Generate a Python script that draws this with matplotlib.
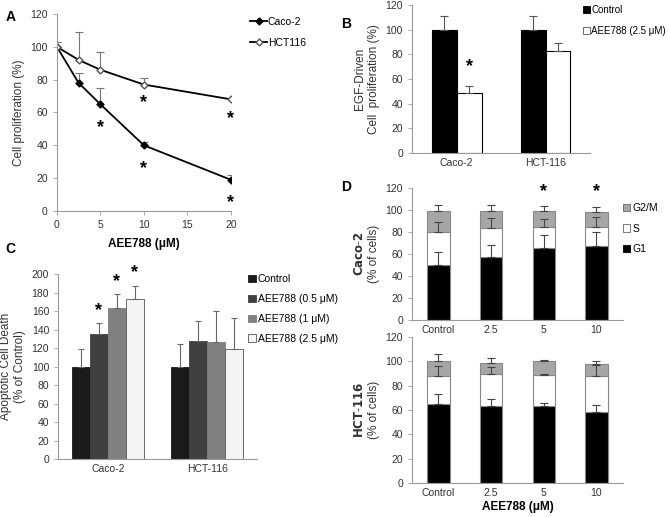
import numpy as np
import matplotlib
matplotlib.use('Agg')
from matplotlib import pyplot as plt
from matplotlib.lines import Line2D
from matplotlib.patches import Patch

plt.rcParams['font.family'] = ['Liberation Sans', 'DejaVu Sans']

# ---- panel A: dose response
doses = [0, 2.5, 5, 10, 20]
caco_prolif = [100, 78, 65, 40, 19]
caco_prolif_err = [3, 6, 10, 2, 3]
hct_prolif = [100, 92, 86, 77, 68]
hct_prolif_err = [3, 17, 11, 4, 1]
stars_a = [(5, 51), (10, 26), (20, 5), (10, 66), (20, 56)]

# ---- panel B: EGF-driven proliferation
lines_b = ['Caco-2', 'HCT-116']
ctrl_b = [100, 100]
ctrl_b_err = [11, 11]
aee_b = [49, 83]
aee_b_err = [5, 6]

# ---- panel C: apoptosis
groups_c = ['Control', 'AEE788 (0.5 μM)', 'AEE788 (1 μM)', 'AEE788 (2.5 μM)']
caco_apo = [100, 135, 163, 173]
caco_apo_err = [19, 12, 15, 14]
hct_apo = [100, 128, 126, 119]
hct_apo_err = [24, 21, 34, 34]

# ---- panel D: cell cycle
doses_d = ['Control', '2.5', '5', '10']
caco_g1 = [50, 57, 66, 67]
caco_g1_err = [12, 11, 11, 13]
caco_s_top = [80, 84, 85, 85]
caco_s_err = [9, 9, 7, 9]
caco_tot = [99, 99, 99, 98]
caco_tot_err = [6, 6, 5, 5]
hct_g1 = [65, 63, 63, 58]
hct_g1_err = [8, 6, 3, 6]
hct_s_top = [88, 90, 89, 88]
hct_s_err = [8, 5, 1, 9]
hct_tot = [100, 99, 100, 98]
hct_tot_err = [6, 4, 1, 2]

AX_COL = '#9a9a9a'
TXT_COL = '#333333'

def style(ax):
	for s in ['top', 'right']:
		ax.spines[s].set_visible(False)
	for s in ['left', 'bottom']:
		ax.spines[s].set_color(AX_COL)
		ax.spines[s].set_linewidth(0.8)
	ax.tick_params(colors=AX_COL, labelcolor=TXT_COL, labelsize=7.5, length=3, width=0.6)

fig = plt.figure(figsize=(6.69, 5.17), dpi=100)

# ================= A
axA = fig.add_axes([0.085, 0.592, 0.260, 0.381])
axA.errorbar(doses, caco_prolif, yerr=[np.zeros(5), caco_prolif_err], color='black', lw=1.3,
	marker='D', ms=3.5, mfc='black', mec='black', ecolor='#777777', elinewidth=0.8, capsize=3,
	capthick=0.8, label='Caco-2')
axA.errorbar(doses, hct_prolif, yerr=[np.zeros(5), hct_prolif_err], color='black', lw=1.3,
	marker='D', ms=3.5, mfc='white', mec='#555555', ecolor='#777777', elinewidth=0.8, capsize=3,
	capthick=0.8, label='HCT116')
for x, y in stars_a:
	axA.text(x, y, '*', ha='center', va='center', fontsize=13, fontweight='bold')
axA.set_xlim(0, 20)
axA.set_ylim(0, 120)
axA.set_xticks([0, 5, 10, 15, 20])
axA.set_yticks(range(0, 121, 20))
axA.tick_params(axis='y', length=0)
style(axA)
axA.set_ylabel('Cell proliferation (%)', fontsize=8.5, color=TXT_COL)
axA.set_xlabel('AEE788 (μM)', fontsize=8.5, fontweight='bold', labelpad=6)
hA = [Line2D([], [], color='black', lw=1.3, marker='D', ms=3.5, mfc='black'),
	Line2D([], [], color='black', lw=1.3, marker='D', ms=3.5, mfc='white', mec='#555555')]
fig.legend(hA, ['Caco-2', 'HCT116'], loc='upper left', bbox_to_anchor=(0.36, 0.985), frameon=False,
	fontsize=7.5, handlelength=1.6, handletextpad=0.1, labelspacing=1.0)

# ================= B
axB = fig.add_axes([0.616, 0.704, 0.266, 0.286])
xb = np.arange(len(lines_b))
wb = 0.28
axB.bar(xb - wb/2, ctrl_b, wb, color='black', edgecolor='black', lw=0.8)
axB.bar(xb + wb/2, aee_b, wb, color='white', edgecolor='black', lw=0.8)
axB.errorbar(xb - wb/2, ctrl_b, yerr=[np.zeros(2), ctrl_b_err], fmt='none', ecolor='#555555',
	elinewidth=0.8, capsize=3, capthick=0.8)
axB.errorbar(xb + wb/2, aee_b, yerr=[np.zeros(2), aee_b_err], fmt='none', ecolor='#555555',
	elinewidth=0.8, capsize=3, capthick=0.8)
axB.text(xb[0] + wb/2, 70, '*', ha='center', va='center', fontsize=13, fontweight='bold')
axB.set_xlim(-0.5, 1.5)
axB.set_ylim(0, 120)
axB.set_yticks(range(0, 121, 20))
axB.set_xticks(xb)
axB.set_xticklabels(lines_b)
style(axB)
axB.tick_params(axis='x', length=0)
axB.set_ylabel('EGF-Driven\nCell  proliferation (%)', fontsize=8.5, color=TXT_COL)
hB = [Patch(fc='black', ec='black', lw=0.6), Patch(fc='white', ec='#555555', lw=0.6)]
fig.legend(hB, ['Control', 'AEE788 (2.5 μM)'], loc='upper left', bbox_to_anchor=(0.872, 0.99),
	frameon=False, fontsize=7, handlelength=0.7, handleheight=0.7, handletextpad=0.1,
	labelspacing=1.1, borderaxespad=0, borderpad=0)

# ================= C
axC = fig.add_axes([0.087, 0.112, 0.297, 0.358])
xc = np.arange(2)
wc = 0.18
colsC = ['#1a1a1a', '#404040', '#808080', '#f4f4f4']
for i in range(4):
	vals = [caco_apo[i], hct_apo[i]]
	errs = [caco_apo_err[i], hct_apo_err[i]]
	pos = xc + (i - 1.5) * wc
	axC.bar(pos, vals, wc, color=colsC[i], edgecolor='#555555' if i == 3 else colsC[i], lw=0.6)
	axC.errorbar(pos, vals, yerr=[np.zeros(2), errs], fmt='none', ecolor='#666666',
		elinewidth=0.8, capsize=2.5, capthick=0.8)
for i in range(1, 4):
	axC.text((i - 1.5) * wc, caco_apo[i] + caco_apo_err[i] + 14, '*', ha='center', va='center',
		fontsize=13, fontweight='bold')
axC.set_xlim(-0.5, 1.5)
axC.set_ylim(0, 200)
axC.set_yticks(range(0, 201, 20))
axC.set_xticks(xc)
axC.set_xticklabels(lines_b)
style(axC)
axC.tick_params(axis='x', length=0)
axC.set_ylabel('Apoptotic Cell Death\n(% of Control)', fontsize=8.5, color=TXT_COL)
hC = [Patch(fc=c, ec='#555555' if c == '#f4f4f4' else c, lw=0.6) for c in colsC]
fig.legend(hC, groups_c, loc='upper left', bbox_to_anchor=(0.365, 0.478), frameon=False,
	fontsize=7.5, handlelength=0.7, handleheight=0.7, handletextpad=0.2, labelspacing=0.95,
	borderaxespad=0)

# ================= D
def cycle(ax, g1, g1e, stop, se, tot, te):
	x = np.arange(len(doses_d))
	w = 0.42
	s = np.array(stop) - np.array(g1)
	g2 = np.array(tot) - np.array(stop)
	ax.bar(x, g1, w, color='black', edgecolor='#888888', lw=0.8)
	ax.bar(x, s, w, bottom=g1, color='white', edgecolor='#888888', lw=0.8)
	ax.bar(x, g2, w, bottom=stop, color='#a6a6a6', edgecolor='#888888', lw=0.8)
	for y, e in [(g1, g1e), (stop, se), (tot, te)]:
		ax.errorbar(x, y, yerr=[np.zeros(len(x)), e], fmt='none', ecolor='#444444',
			elinewidth=0.8, capsize=3, capthick=0.8)
	ax.set_xlim(-0.5, 3.5)
	ax.set_ylim(0, 120)
	ax.set_yticks(range(0, 121, 20))
	ax.set_xticks(x)
	ax.set_xticklabels(doses_d)
	style(ax)
	ax.tick_params(axis='x', length=0)
	return x

axD1 = fig.add_axes([0.616, 0.381, 0.315, 0.255])
xd = cycle(axD1, caco_g1, caco_g1_err, caco_s_top, caco_s_err, caco_tot, caco_tot_err)
for i in [2, 3]:
	axD1.text(xd[i], 117, '*', ha='center', va='center', fontsize=13, fontweight='bold')
axD1.set_ylabel('$\\bf{Caco}$-$\\bf{2}$\n(% of cells)', fontsize=8.5, color=TXT_COL)

axD2 = fig.add_axes([0.616, 0.066, 0.315, 0.282])
cycle(axD2, hct_g1, hct_g1_err, hct_s_top, hct_s_err, hct_tot, hct_tot_err)
axD2.set_ylabel('$\\bf{HCT}$-$\\bf{116}$\n(% of cells)', fontsize=8.5, color=TXT_COL)
axD2.set_xlabel('AEE788 (μM)', fontsize=8.5, fontweight='bold', labelpad=2)

hD = [Patch(fc='#a6a6a6', ec='#666666', lw=0.6), Patch(fc='white', ec='#666666', lw=0.6),
	Patch(fc='black', ec='black', lw=0.6)]
fig.legend(hD, ['G2/M', 'S', 'G1'], loc='upper left', bbox_to_anchor=(0.925, 0.615), frameon=False,
	fontsize=7.5, handlelength=0.7, handleheight=0.7, handletextpad=0.2, labelspacing=1.0,
	borderaxespad=0)

# panel letters
for lab, x, y in [('A', 0.008, 0.96), ('B', 0.51, 0.945), ('C', 0.008, 0.51), ('D', 0.51, 0.63)]:
	fig.text(x, y, lab, fontsize=10, fontweight='bold')

fig.savefig('out.png', dpi=100)
